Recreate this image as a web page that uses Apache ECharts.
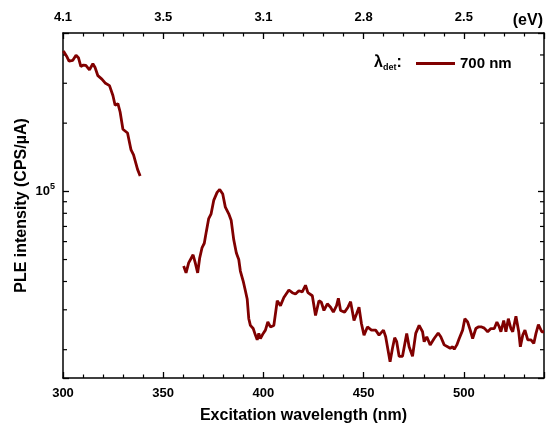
<!DOCTYPE html>
<html lang="en">
<head>
  <meta charset="UTF-8">
  <title>PLE</title>
  <style>
    html, body { margin: 0; padding: 0; background: #fff; }
  </style>
</head>
<body>
  <div id="main" style="width:546px;height:429px;"></div>
  <script src="https://cdn.jsdelivr.net/npm/echarts@6/dist/echarts.min.js"></script>
  <script>
    // wavelength (nm) and PLE intensity (CPS/uA); null = gap in the scan
    var wavelength = [
      300.2, 301.8, 303, 304.9, 306.5, 307.7, 308.9, 310.2, 311.4, 313.2, 314.9, 316, 317.4,
      319.4, 321, 323.2, 324.9, 326, 327.4, 328.5, 329.9, 332.2, 333.9, 335.2, 337.2, 338.5,
      349,
      360.2, 361.4, 362.7, 364.9, 366, 367.2, 368.2, 369.4, 370.5, 371.5, 372.7, 373.9, 375.2,
      376.9, 378.2, 379.7, 381, 382.7, 383.9, 385.2, 386.5, 387.7, 388.5, 389.9, 391, 391.9,
      392.7, 393.5, 394.9, 396, 396.9, 397.7, 398.5, 399.9, 401, 402.2, 403.5, 405.2, 406.9,
      408.5, 410.2, 412.7, 414.4, 416, 417.7, 419.4, 421, 422.2, 424.4, 426, 427.7, 428.9,
      430.2, 431.9, 433.5, 434.9, 436.5, 437.4, 438.5, 440.5, 442.2, 443.5, 445.2, 446.5,
      447.7, 448.9, 450.2, 451.9, 453.9, 456, 457.7, 459.9, 461, 463.2, 464.4, 465.5, 466.5,
      467.7, 469.4, 471.5, 472.7, 474.4, 476, 477.7, 479.4, 480.2, 481.5, 483.2, 485.2, 487.2,
      488.5, 490.2, 491.9, 493.2, 494.4, 495.2, 496.5, 497.7, 499.4, 500.5, 501.9, 503.2,
      504.4, 506, 507.2, 508.9, 510.2, 511.9, 513.5, 515.2, 516.5, 517.7, 518.5, 519.9, 521,
      522.2, 523.5, 524.4, 526, 527.4, 528.2, 529.4, 530.5, 531.9, 533.5, 534.9, 536, 537.2,
      538.9, 540
    ];
    var intensity = [
      416000, 395000, 376000, 379000, 399000, 389000, 356000, 361000, 360000, 344000, 366000, 352000, 324000,
      313000, 301000, 293000, 265000, 240000, 244000, 224000, 188000, 181000, 153000, 145000, 125000, 117000,
      null,
      46800, 43700, 48300, 52500, 48300, 43700, 50800, 56500, 59000, 66400, 75800, 79600, 91200,
      99000, 102000, 97300, 85200, 79600, 74600, 61100, 53400, 50000, 44500, 40200, 36400, 33500,
      27400, 25600, 24800, 23200, 22100, 23600, 22400, 23600, 24400, 26500, 25200, 25600, 32900,
      31300, 34000, 36700, 35700, 35200, 36400, 36000, 38500, 35700, 34600, 28300, 32900, 32400,
      29800, 31900, 30800, 29300, 31300, 33700, 29800, 29300, 30800, 32600, 26900, 28800,
      30800, 26100, 23200, 25200, 24400, 24400, 23200, 24400, 22800, 17700, 20300, 22600, 21700,
      18700, 18700, 23600, 20600, 18700, 23600, 25600, 24000, 21700, 22800, 21000, 22400, 23700,
      22800, 21000, 20600, 20300, 20600, 20100, 21000, 22400, 24400, 27400, 26500, 24400,
      22400, 24800, 25200, 25200, 24900, 24000, 24800, 24800, 26500, 25200, 24000, 26900, 24000,
      27400, 24800, 24000, 28100, 24000, 20600, 23200, 24400, 22100, 22100, 21300, 23600, 25800,
      24000, 24000
    ];

    var nmTicks = [300, 350, 400, 450, 500];
    var eVLabels = ['4.1', '3.5', '3.1', '2.8', '2.5'];
    var yMinorTicks = [20000, 30000, 40000, 50000, 60000, 70000, 80000, 90000, 200000, 300000, 400000];

    var seriesData = wavelength.map(function (w, i) {
      return [w, intensity[i]];
    });

    var red = '#800000';
    var font = 'Liberation Sans, Arial, sans-serif';

    var myChart = echarts.init(document.getElementById('main'));

    var xBase = {
      type: 'value',
      min: 300,
      max: 540,
      interval: 50,
      splitLine: { show: false },
      axisLine: { lineStyle: { color: '#000', width: 1.5 } },
      axisTick: { inside: true, length: 6, lineStyle: { color: '#000', width: 1.3 } },
      minorTick: { show: true, splitNumber: 5, length: 3.5, lineStyle: { color: '#000', width: 1.2 } },
      axisLabel: {
        color: '#000', fontWeight: 'bold', fontSize: 13, fontFamily: font, margin: 9,
        showMaxLabel: false
      }
    };

    var yBase = {
      type: 'log',
      logBase: 10,
      min: 15000,
      max: 500000,
      splitLine: { show: false },
      axisLine: { show: true, lineStyle: { color: '#000', width: 1.5 } },
      axisTick: { inside: true, length: 6, lineStyle: { color: '#000', width: 1.3 } }
    };

    myChart.setOption({
      backgroundColor: '#fff',
      animation: false,
      grid: { left: 63, right: 2, top: 33, bottom: 46 },
      xAxis: [
        echarts.util.merge({
          position: 'bottom',
          name: 'Excitation wavelength (nm)',
          nameLocation: 'middle',
          nameGap: 30,
          nameMoveOverlap: false,
          nameTextStyle: { color: '#000', fontWeight: 'bold', fontSize: 16, fontFamily: font },
          axisLabel: {
            formatter: function (v) { return nmTicks.indexOf(v) >= 0 ? String(v) : ''; }
          }
        }, echarts.util.clone(xBase), false),
        echarts.util.merge({
          position: 'top',
          axisLabel: {
            formatter: function (v) {
              var i = nmTicks.indexOf(v);
              return i >= 0 ? eVLabels[i] : '';
            }
          }
        }, echarts.util.clone(xBase), false)
      ],
      yAxis: [
        echarts.util.merge({
          position: 'left',
          name: 'PLE intensity (CPS/\u00B5A)',
          nameLocation: 'middle',
          nameGap: 33,
          nameMoveOverlap: false,
          nameTextStyle: { color: '#000', fontWeight: 'bold', fontSize: 16, fontFamily: font },
          axisLabel: {
            margin: 8,
            formatter: function (v) {
              return Math.abs(v - 100000) < 1 ? '{b|10}{s|5}' : '';
            },
            rich: {
              b: { color: '#000', fontWeight: 'bold', fontSize: 13, fontFamily: font },
              s: { color: '#000', fontWeight: 'bold', fontSize: 9, fontFamily: font, verticalAlign: 'bottom', padding: [0, 0, 9, 0] }
            }
          }
        }, echarts.util.clone(yBase), false),
        echarts.util.merge({
          position: 'right',
          axisLabel: { show: false }
        }, echarts.util.clone(yBase), false)
      ],
      legend: {
        left: 416,
        top: 56,
        padding: 0,
        icon: 'rect',
        itemWidth: 39,
        itemHeight: 3,
        textStyle: { color: '#000', fontWeight: 'bold', fontSize: 15, fontFamily: font },
        data: ['700 nm']
      },
      series: [{
        name: '700 nm',
        type: 'line',
        xAxisIndex: 0,
        yAxisIndex: 0,
        data: seriesData,
        showSymbol: false,
        symbol: 'none',
        connectNulls: false,
        itemStyle: { color: red },
        lineStyle: { color: red, width: 2.8 }
      }]
    });

    // minor log ticks on left and right frame edges + texts
    var gEls = [];
    yMinorTicks.forEach(function (v) {
      var y = myChart.convertToPixel({ yAxisIndex: 0 }, v);
      gEls.push({ type: 'line', shape: { x1: 63, y1: y, x2: 67, y2: y }, style: { stroke: '#000', lineWidth: 1.2 } });
      gEls.push({ type: 'line', shape: { x1: 544, y1: y, x2: 540, y2: y }, style: { stroke: '#000', lineWidth: 1.2 } });
    });
    gEls.push({
      type: 'text', right: 3, top: 13,
      style: { text: '(eV)', fill: '#000', font: 'bold 16px ' + font }
    });
    gEls.push({
      type: 'text', left: 374, top: 55,
      style: {
        text: '{l|\u03BB}{d|det}{c|:}',
        rich: {
          l: { fill: '#000', font: 'bold 16px ' + font },
          d: { fill: '#000', font: 'bold 9px ' + font, verticalAlign: 'top', padding: [10, 0, 0, 0] },
          c: { fill: '#000', font: 'bold 16px ' + font }
        }
      }
    });
    myChart.setOption({ graphic: gEls });
  </script>
</body>
</html>
